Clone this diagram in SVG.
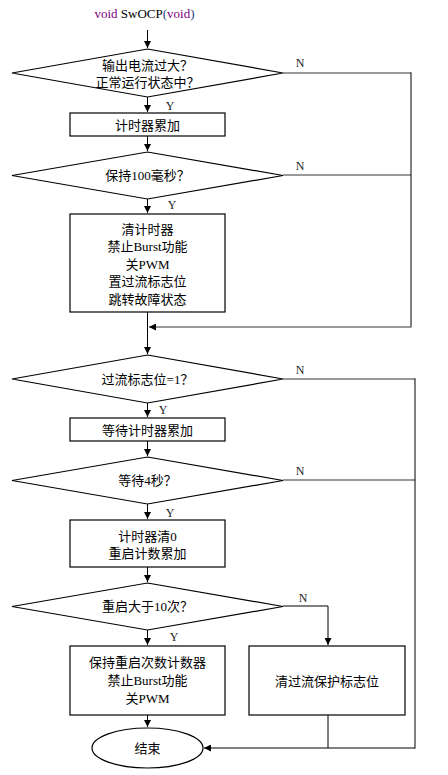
<svg xmlns="http://www.w3.org/2000/svg" width="448" height="775" viewBox="0 0 448 775">
<style>
.shape{fill:#fff;stroke:#000;stroke-width:1.2}
.t{font-family:"Liberation Serif","Noto Sans CJK SC",serif;font-size:13px;fill:#000;text-anchor:middle}
.lbl{font-family:"Liberation Serif",serif;font-size:12px;fill:#222;text-anchor:middle}
.c{fill:none;stroke:#000;stroke-width:1}
.g{fill:none;stroke:#777;stroke-width:1.4}
</style>
<defs>
<marker id="ah" viewBox="0 0 8 8" refX="8" refY="4" markerWidth="7" markerHeight="7" markerUnits="userSpaceOnUse" orient="auto">
<path d="M0,0 L8,4 L0,8 z" fill="#000"/>
</marker>
</defs>
<g id="title">
<text x="144.5" y="18" class="t" font-size="14"><tspan fill="#800080">void</tspan> <tspan fill="#000">SwOCP</tspan><tspan fill="#1f3f7f">(</tspan><tspan fill="#800080">void</tspan><tspan fill="#1f3f7f">)</tspan></text>
</g>
<g id="connectors">
<line class="c" x1="147.5" y1="30" x2="147.5" y2="48" marker-end="url(#ah)"/>
<line class="c" x1="147.5" y1="97" x2="147.5" y2="112" marker-end="url(#ah)"/>
<line class="c" x1="147.5" y1="136" x2="147.5" y2="151" marker-end="url(#ah)"/>
<line class="c" x1="147.5" y1="199" x2="147.5" y2="213" marker-end="url(#ah)"/>
<line class="c" x1="147.5" y1="312" x2="147.5" y2="354" marker-end="url(#ah)"/>
<line class="g" x1="283" y1="73" x2="411" y2="73"/>
<line class="g" x1="283" y1="175" x2="411" y2="175"/>
<line class="c" x1="411" y1="72.3" x2="411" y2="327.5"/>
<line class="g" x1="411" y1="327" x2="149" y2="327" marker-end="url(#ah)"/>
<line class="c" x1="147.5" y1="403" x2="147.5" y2="417" marker-end="url(#ah)"/>
<line class="c" x1="147.5" y1="441" x2="147.5" y2="456" marker-end="url(#ah)"/>
<line class="c" x1="147.5" y1="504" x2="147.5" y2="519" marker-end="url(#ah)"/>
<line class="c" x1="147.5" y1="567" x2="147.5" y2="582" marker-end="url(#ah)"/>
<line class="c" x1="147.5" y1="630" x2="147.5" y2="645" marker-end="url(#ah)"/>
<line class="c" x1="147.5" y1="715" x2="147.5" y2="727" marker-end="url(#ah)"/>
<line class="g" x1="283" y1="379" x2="415" y2="379"/>
<line class="g" x1="283" y1="480" x2="415" y2="480"/>
<line class="c" x1="415" y1="378.3" x2="415" y2="748.5"/>
<polyline class="c" points="283,606 328,606 328,645" marker-end="url(#ah)"/>
<line class="c" x1="328" y1="715" x2="328" y2="748"/>
<line class="c" x1="415" y1="748" x2="204" y2="748" marker-end="url(#ah)"/>
</g>
<g id="labels">
<text class="lbl" x="300" y="67">N</text>
<text class="lbl" x="170" y="110">Y</text>
<text class="lbl" x="300" y="170">N</text>
<text class="lbl" x="172" y="209">Y</text>
<text class="lbl" x="300" y="374">N</text>
<text class="lbl" x="163" y="414">Y</text>
<text class="lbl" x="300" y="475">N</text>
<text class="lbl" x="170" y="517">Y</text>
<text class="lbl" x="303" y="602">N</text>
<text class="lbl" x="174" y="641">Y</text>
</g>
<g id="d1">
<polygon class="shape" points="147.5,49 283,73 147.5,97 12,73"/>
<text class="t" x="147.5" y="69.5">输出电流过大？</text>
<text class="t" x="147.5" y="86.5">正常运行状态中？</text>
</g>
<g id="b1">
<rect class="shape" x="70" y="113" width="155" height="23"/>
<text class="t" x="147.5" y="129.5">计时器累加</text>
</g>
<g id="d2">
<polygon class="shape" points="147.5,152 283,175.5 147.5,199 12,175.5"/>
<text class="t" x="147.5" y="180">保持100毫秒？</text>
</g>
<g id="b2">
<rect class="shape" x="70" y="214" width="155" height="98"/>
<text class="t" x="147.5" y="233.5">清计时器</text>
<text class="t" x="147.5" y="251">禁止Burst功能</text>
<text class="t" x="147.5" y="268.5">关PWM</text>
<text class="t" x="147.5" y="286">置过流标志位</text>
<text class="t" x="147.5" y="303.5">跳转故障状态</text>
</g>
<g id="d3">
<polygon class="shape" points="147.5,355 283,379 147.5,403 12,379"/>
<text class="t" x="147.5" y="383.5">过流标志位=1？</text>
</g>
<g id="b3">
<rect class="shape" x="70" y="418" width="155" height="23"/>
<text class="t" x="147.5" y="434.5">等待计时器累加</text>
</g>
<g id="d4">
<polygon class="shape" points="147.5,457 283,480.5 147.5,504 12,480.5"/>
<text class="t" x="147.5" y="485">等待4秒？</text>
</g>
<g id="b4">
<rect class="shape" x="70" y="520" width="155" height="47"/>
<text class="t" x="147.5" y="540.5">计时器清0</text>
<text class="t" x="147.5" y="557.5">重启计数累加</text>
</g>
<g id="d5">
<polygon class="shape" points="147.5,583 283,606.5 147.5,630 12,606.5"/>
<text class="t" x="147.5" y="611">重启大于10次？</text>
</g>
<g id="b6">
<rect class="shape" x="70" y="646" width="155" height="69"/>
<text class="t" x="147.5" y="666.5">保持重启次数计数器</text>
<text class="t" x="147.5" y="684.5">禁止Burst功能</text>
<text class="t" x="147.5" y="702.5">关PWM</text>
</g>
<g id="b5">
<rect class="shape" x="249" y="646" width="156" height="69"/>
<text class="t" x="327" y="685.5">清过流保护标志位</text>
</g>
<g id="end">
<ellipse class="shape" cx="147.5" cy="748" rx="55.5" ry="20"/>
<text class="t" x="147.5" y="752.5">结束</text>
</g>
</svg>
